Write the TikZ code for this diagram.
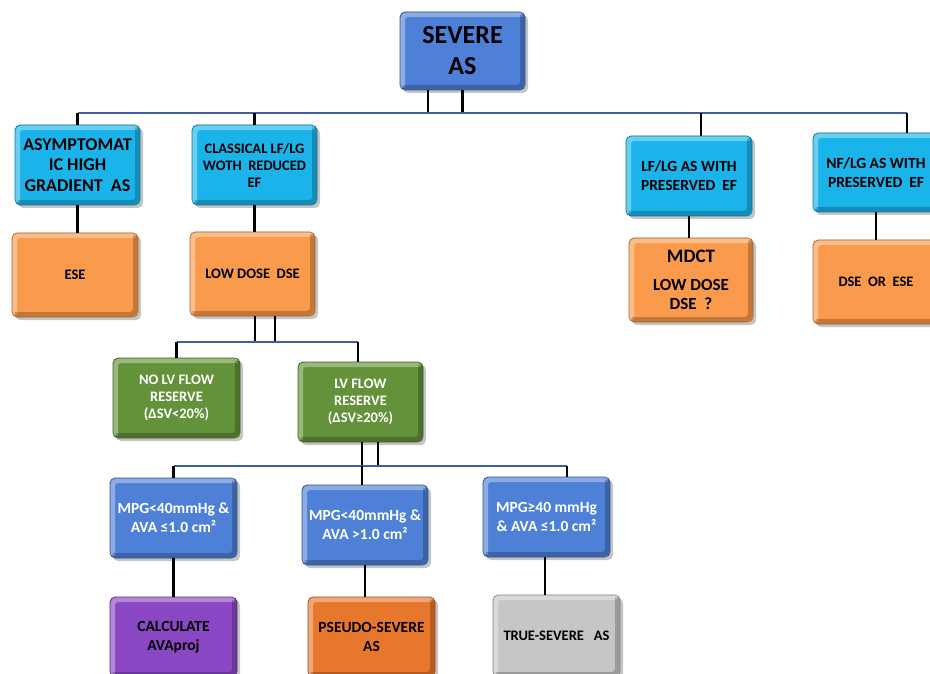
\documentclass[tikz,border=0pt]{standalone}
\usepackage{fontspec}
\setmainfont{Carlito}
\usetikzlibrary{shadows}

\definecolor{sevblue}{HTML}{4F80D7}
\definecolor{skyblue}{HTML}{1BB4EA}
\definecolor{softorange}{HTML}{F99A4C}
\definecolor{leafgreen}{HTML}{63923A}
\definecolor{violet}{HTML}{8A47C4}
\definecolor{deeporange}{HTML}{E8772E}
\definecolor{lightgray}{HTML}{C6C6C6}
\definecolor{busblue}{HTML}{3E5CA8}

\tikzset{
  box/.style={rounded corners=5pt, align=center, inner sep=2pt,
    font=\bfseries\fontsize{14.5}{17}\selectfont,
    drop shadow={shadow xshift=3pt, shadow yshift=-3pt, opacity=0.45},
    path picture={
      \draw[white,opacity=.35,line width=5pt]
        ([shift={(2.5pt,2.5pt)}]path picture bounding box.south west) |-
        ([shift={(-2.5pt,-2.5pt)}]path picture bounding box.north east);
      \draw[black,opacity=.22,line width=5pt]
        ([shift={(2.5pt,2.5pt)}]path picture bounding box.south west) -|
        ([shift={(-2.5pt,-2.5pt)}]path picture bounding box.north east);
    }},
  boxfill/.style={box, fill=#1, draw=#1!65!black, line width=0.6pt},
  stub/.style={black, line width=2.2pt},
  bus/.style={busblue, line width=1.8pt}
}

\begin{document}
\begin{tikzpicture}[x=1pt,y=-1pt]
\useasboundingbox (0,0) rectangle (930,674);
\clip (0,0) rectangle (930,674);
\fill[white] (0,0) rectangle (930,674);

% top
\node[boxfill=sevblue, minimum width=125pt, minimum height=78pt,
  font=\bfseries\fontsize{26}{31}\selectfont] (sev) at (462.5,51) {SEVERE\\AS};
\coordinate (bus1) at (0,113);

% first row
\node[boxfill=skyblue, minimum width=125pt, minimum height=80pt,
  font=\bfseries\fontsize{18}{20.5}\selectfont] (asy) at (77.5,165) {ASYMPTOMAT\\IC HIGH\\GRADIENT~ AS};
\node[boxfill=skyblue, minimum width=125pt, minimum height=80pt] (cla) at (254.5,165) {CLASSICAL LF/LG\\WOTH~ REDUCED\\EF};
\node[boxfill=skyblue, minimum width=126pt, minimum height=80pt,
  font=\bfseries\fontsize{15.5}{19}\selectfont] (lfp) at (689,176) {LF/LG AS WITH\\PRESERVED~ EF};
\node[boxfill=skyblue, minimum width=126pt, minimum height=79pt,
  font=\bfseries\fontsize{15.5}{19}\selectfont] (nfp) at (876,172.5) {NF/LG AS WITH\\PRESERVED~ EF};

% second row
\node[boxfill=softorange, minimum width=126pt, minimum height=84pt] (ese) at (75,275) {ESE};
\node[boxfill=softorange, minimum width=125pt, minimum height=84pt] (lds) at (252.5,274) {LOW DOSE~ DSE};
\node[boxfill=softorange, minimum width=124pt, minimum height=84pt,
  font=\bfseries\fontsize{17}{19}\selectfont] (mdct) at (691,280)
  {{\fontsize{19}{19}\selectfont MDCT}\\[9pt]LOW DOSE\\DSE~ ?};
\node[boxfill=softorange, minimum width=126pt, minimum height=84pt] (dse) at (876,282) {DSE~ OR~ ESE};

% flow reserve
\coordinate (bus2) at (0,342);
\node[boxfill=leafgreen, minimum width=127pt, minimum height=80pt, text=white,
  font=\bfseries\fontsize{14.5}{17}\selectfont] (nof) at (176.5,398) {NO LV FLOW\\RESERVE\\(ΔSV<20\%)};
\node[boxfill=leafgreen, minimum width=125pt, minimum height=80pt, text=white,
  font=\bfseries\fontsize{14.5}{17}\selectfont] (lvf) at (360.5,402) {LV FLOW\\RESERVE\\(ΔSV≥20\%)};

% gradient / area
\coordinate (bus3) at (0,466);
\node[boxfill=sevblue, minimum width=127pt, minimum height=80pt, text=white,
  font=\bfseries\fontsize{15.5}{19}\selectfont] (mpga) at (173.5,518) {MPG<40mmHg \&\\AVA ≤1.0 cm²};
\node[boxfill=sevblue, minimum width=126pt, minimum height=80pt, text=white,
  font=\bfseries\fontsize{15.5}{19}\selectfont] (mpgb) at (365,525) {MPG<40mmHg \&\\AVA >1.0 cm²};
\node[boxfill=sevblue, minimum width=127pt, minimum height=80pt, text=white,
  font=\bfseries\fontsize{15.5}{19}\selectfont] (mpgc) at (546.5,517) {MPG≥40 mmHg\\\& AVA ≤1.0 cm²};

% results
\node[boxfill=violet, minimum width=127pt, minimum height=80pt,
  font=\bfseries\fontsize{15.5}{19}\selectfont] (calc) at (173.5,637) {CALCULATE\\AVAproj};
\node[boxfill=deeporange, minimum width=127pt, minimum height=80pt,
  font=\bfseries\fontsize{15.5}{19}\selectfont] (pseudo) at (371.5,637) {PSEUDO-SEVERE\\AS};
\node[boxfill=lightgray, minimum width=127pt, minimum height=82pt] (true) at (556.5,636) {TRUE-SEVERE~~ AS};

% connectors
\draw[stub] ([xshift=-34.5pt]sev.south) -- ([xshift=-34.5pt]sev.south |- bus1);
\draw[stub] (sev.south) -- (sev.south |- bus1);
\draw[bus] (asy.north |- bus1) -- ([xshift=31pt]nfp.north |- bus1);
\draw[stub] (asy.north |- bus1) -- (asy.north);
\draw[stub] (cla.north |- bus1) -- (cla.north);
\draw[stub] ([xshift=12pt]lfp.north |- bus1) -- ([xshift=12pt]lfp.north);
\draw[stub] ([xshift=31pt]nfp.north |- bus1) -- ([xshift=31pt]nfp.north);

\draw[stub] (asy.south) -- (asy.south |- ese.north);
\draw[stub] (cla.south) -- (cla.south |- lds.north);
\draw[stub] (lfp.south) -- (lfp.south |- mdct.north);
\draw[stub] (nfp.south) -- (nfp.south |- dse.north);

\draw[stub] ([xshift=2.5pt]lds.south) -- ([xshift=2.5pt]lds.south |- bus2);
\draw[stub] ([xshift=22.5pt]lds.south) -- ([xshift=22.5pt]lds.south |- bus2);
\draw[bus] (nof.north |- bus2) -- ([xshift=-2.5pt]lvf.north |- bus2);
\draw[stub] (nof.north |- bus2) -- (nof.north);
\draw[stub] ([xshift=-2.5pt]lvf.north |- bus2) -- ([xshift=-2.5pt]lvf.north);

\draw[stub] ([xshift=1.5pt]lvf.south) -- ([xshift=1.5pt]lvf.south |- bus3);
\draw[stub] ([xshift=17.5pt]lvf.south) -- ([xshift=17.5pt]lvf.south |- bus3);
\draw[bus] (mpga.north |- bus3) -- ([xshift=20.5pt]mpgc.north |- bus3);
\draw[stub] (mpga.north |- bus3) -- (mpga.north);
\draw[stub] ([xshift=-3pt]mpgb.north |- bus3) -- ([xshift=-3pt]mpgb.north);
\draw[stub] ([xshift=20.5pt]mpgc.north |- bus3) -- ([xshift=20.5pt]mpgc.north);

\draw[stub] (mpga.south) -- (mpga.south |- calc.north);
\draw[stub] (mpgb.south) -- (mpgb.south |- pseudo.north);
\draw[stub] ([xshift=-1.5pt]mpgc.south) -- ([xshift=-1.5pt]mpgc.south |- true.north);
\end{tikzpicture}
\end{document}
